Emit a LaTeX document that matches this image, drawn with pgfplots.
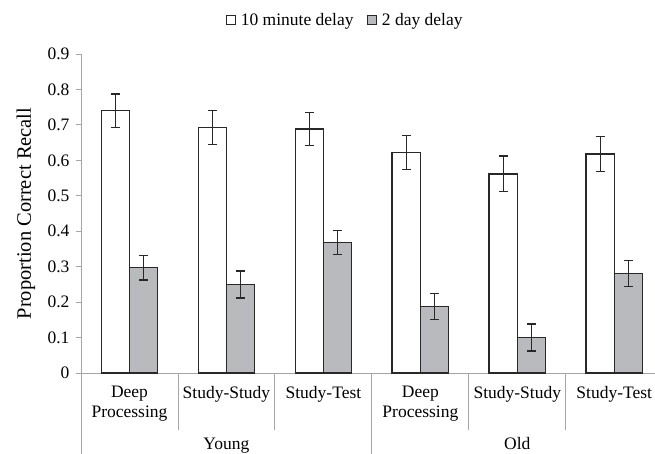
\documentclass[border=0pt]{standalone}
\usepackage{pgfplots}
\pgfplotsset{compat=1.18}
\usepackage{fontspec}
\setmainfont{Liberation Serif}
\definecolor{bargray}{RGB}{185,186,189}
\definecolor{axgray}{RGB}{165,165,165}
\definecolor{edge}{RGB}{40,40,40}
\newcommand{\tf}{\fontsize{17.5}{19.5}\selectfont}

\pgfplotstableread{
x y e
0 0.740 0.047
1 0.693 0.048
2 0.688 0.047
3 0.622 0.048
4 0.562 0.050
5 0.618 0.050
}\tenmin
\pgfplotstableread{
x y e
0 0.297 0.035
1 0.250 0.038
2 0.368 0.034
3 0.187 0.037
4 0.100 0.038
5 0.281 0.037
}\twoday

\begin{document}
\begin{tikzpicture}
\useasboundingbox (0,0) rectangle (655pt,454pt);
\begin{axis}[
  at={(81pt,81pt)}, anchor=south west,
  scale only axis, width=574pt, height=319pt,
  xmin=-0.5, xmax=5.42, ymin=0, ymax=0.9,
  ybar=0pt, bar width=0.29,
  axis x line*=bottom, axis y line*=left,
  axis line style={axgray, line width=0.9pt, -},
  ytick={0,0.1,0.2,0.3,0.4,0.5,0.6,0.7,0.8,0.9},
  yticklabels={0,0.1,0.2,0.3,0.4,0.5,0.6,0.7,0.8,0.9},
  xtick={0,1,2,3,4,5},
  xticklabels={{Deep\\Processing},{Study-Study},{Study-Test},{Deep\\Processing},{Study-Study},{Study-Test}},
  x tick style={draw=none},
  y tick style={axgray, line width=0.9pt},
  tick align=outside, major tick length=5pt,
  tick label style={font=\tf},
  xticklabel style={align=center, anchor=north, yshift=-5pt},
  yticklabel style={xshift=-3pt},
  ylabel={Proportion Correct Recall},
  ylabel style={font=\fontsize{20.5}{22}\selectfont, at={(axis description cs:-0.096,0.5)}, anchor=center},
  clip=false,
  legend columns=2,
  legend style={at={(0.46,1.107)}, anchor=center, draw=none, fill=none, font=\tf,
    /tikz/every even column/.append style={column sep=11pt}},
  legend image code/.code={\draw[#1, line width=1.1pt] (0pt,-4.5pt) rectangle (9pt,4.5pt); \path (12pt,0pt);},
]
\addplot[fill=white, draw=edge, line width=1.5pt,
  error bars/.cd, y dir=both, y explicit,
  error bar style={edge, line width=1.3pt},
  error mark options={rotate=90, mark size=4.5pt, line width=1.3pt, edge}]
  table[x=x, y=y, y error=e] {\tenmin};
\addlegendentry{10 minute delay}
\addplot[fill=bargray, draw=edge, line width=1.5pt,
  error bars/.cd, y dir=both, y explicit,
  error bar style={edge, line width=1.3pt},
  error mark options={rotate=90, mark size=4.5pt, line width=1.3pt, edge}]
  table[x=x, y=y, y error=e] {\twoday};
\addlegendentry{2 day delay}

\draw[axgray, line width=0.9pt] (axis cs:-0.5,0) -- ++(0pt,-81pt);
\draw[axgray, line width=0.9pt] (axis cs:2.5,0) -- ++(0pt,-81pt);
\draw[axgray, line width=0.9pt] (axis cs:0.5,0) -- ++(0pt,-57pt);
\draw[axgray, line width=0.9pt] (axis cs:1.5,0) -- ++(0pt,-57pt);
\draw[axgray, line width=0.9pt] (axis cs:3.5,0) -- ++(0pt,-57pt);
\draw[axgray, line width=0.9pt] (axis cs:4.5,0) -- ++(0pt,-57pt);
\node[font=\tf, anchor=base] at ([yshift=-77pt]axis cs:1,0) {Young};
\node[font=\tf, anchor=base] at ([yshift=-77pt]axis cs:4,0) {Old};
\end{axis}
\end{tikzpicture}
\end{document}
